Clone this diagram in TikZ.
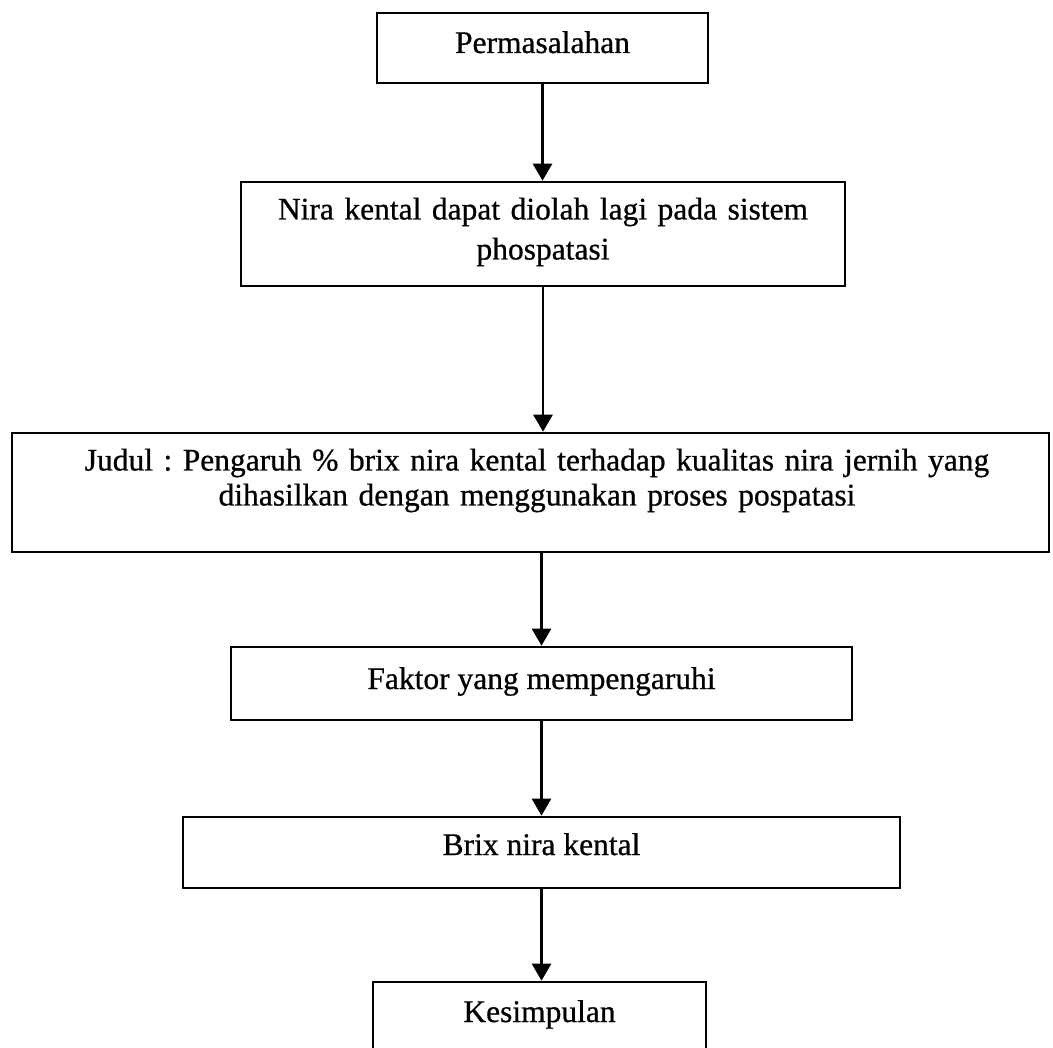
\documentclass[tikz,border=0pt]{standalone}
\usepackage{fontspec}
\setmainfont{Liberation Serif}
\newfontfamily\scanfont[FakeBold=0.7]{Liberation Serif}
\usetikzlibrary{arrows.meta}
\begin{document}
\frenchspacing
\begin{tikzpicture}[x=1pt,y=-1pt,
  box/.style={draw=black, line width=2.6pt, inner sep=0pt, align=center,
    font=\scanfont\frenchspacing\fontsize{31.5}{40}\selectfont},
  arr/.style={line width=2.6pt, -{Triangle[length=17pt,width=19pt]}}]
\useasboundingbox (0,0) rectangle (1053,1048);
\clip (0,0) rectangle (1053,1048);
\fill[white] (0,0) rectangle (1053,1048);

\node[box, minimum width=331pt, minimum height=70pt, text height=25pt, text depth=15pt]
  (b1) at (542.5,48) {Permasalahan};
\node[box, minimum width=604pt, minimum height=104pt, text width=590pt, text height=20pt, text depth=49pt]
  (b2) at (543,234) {Nira kental dapat diolah lagi pada sistem\\phospatasi};
\node[box, minimum width=1037pt, minimum height=119pt, text width=1000pt, text height=15pt, text depth=59pt,
  font=\scanfont\frenchspacing\fontsize{31.5}{35}\selectfont]
  (b3) at (530.5,492.5) {\hspace*{13pt}Judul : Pengaruh \% brix nira kental terhadap kualitas nira jernih yang\\\hspace*{13pt}dihasilkan dengan menggunakan proses pospatasi};
\node[box, minimum width=621pt, minimum height=73pt, text height=25.5pt, text depth=14.5pt]
  (b4) at (541.5,683.5) {Faktor yang mempengaruhi};
\node[box, minimum width=717pt, minimum height=71pt, text height=22.5pt, text depth=17.5pt]
  (b5) at (541.5,852.5) {Brix nira kental};
\node[box, minimum width=333pt, minimum height=73pt, text height=24pt, text depth=17pt]
  (b6) at (539.5,1018.5) {Kesimpulan};

\draw[arr] (b1.south) -- (b1.south |- b2.north);
\draw[arr] (b2.south) -- (b2.south |- b3.north);
\draw[arr] (b4.north |- b3.south) -- (b4.north);
\draw[arr] (b4.south) -- (b5.north);
\draw[arr] (b5.south) -- (b5.south |- b6.north);
\end{tikzpicture}
\end{document}
